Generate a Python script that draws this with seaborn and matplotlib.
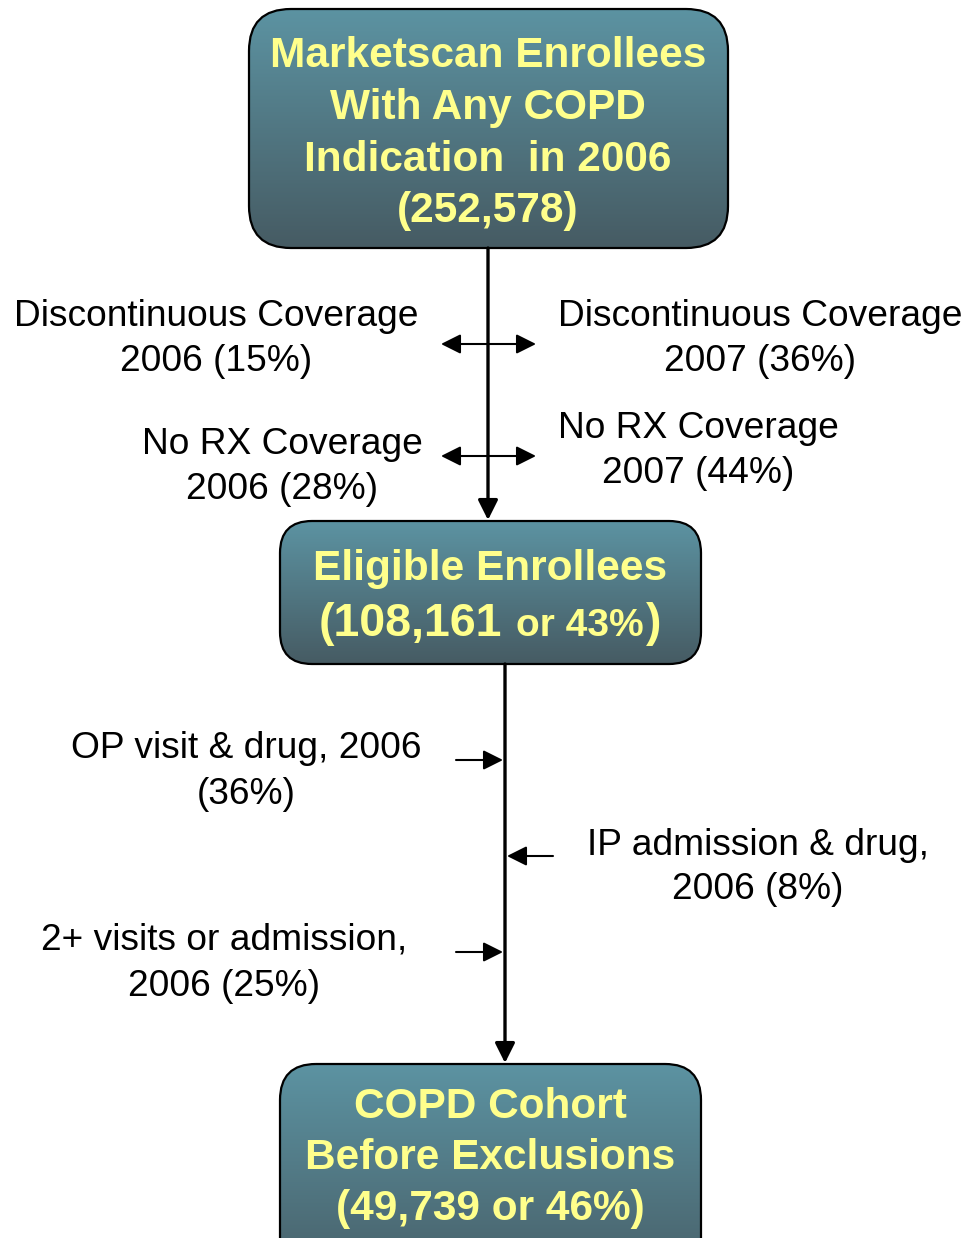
import matplotlib.pyplot as plt
import seaborn as sns
import numpy as np
from matplotlib.patches import FancyBboxPatch

sns.set_theme(style="white")
plt.rcParams["font.family"] = ["Liberation Sans", "DejaVu Sans"]

# box texts
top_box = ["Marketscan Enrollees", "With Any COPD", "Indication  in 2006", "(252,578)"]
mid_box_title = "Eligible Enrollees"
mid_box_count = ["(108,161", "or 43%", ")"]
bottom_box = ["COPD Cohort", "Before Exclusions", "(49,739 or 46%)"]

# side labels
disc_2006 = ["Discontinuous Coverage", "2006 (15%)"]
disc_2007 = ["Discontinuous Coverage", "2007 (36%)"]
norx_2006 = ["No RX Coverage", "2006 (28%)"]
norx_2007 = ["No RX Coverage", "2007 (44%)"]
op_visit = ["OP visit & drug, 2006", "(36%)"]
ip_adm = ["IP admission & drug,", "2006 (8%)"]
two_plus = ["2+ visits or admission,", "2006 (25%)"]

W, H = 978, 1238
fig = plt.figure(figsize=(W / 100, H / 100), dpi=100)
ax = fig.add_axes([0, 0, 1, 1])

box_cmap = sns.blend_palette(["#5C93A2", "#465B63"], n_colors=256, as_cmap=True)
yellow = "#FFFF8C"
grad = np.linspace(0, 1, 256).reshape(-1, 1)


def box(x0, y0, x1, y1, r):
    patch = FancyBboxPatch((x0, y0), x1 - x0, y1 - y0,
                           boxstyle=f"round,pad=0,rounding_size={r}",
                           fc="none", ec="black", lw=1.6, zorder=3)
    ax.add_patch(patch)
    im = ax.imshow(grad, cmap=box_cmap, extent=(x0, x1, y1, y0),
                   origin="upper", aspect="auto", zorder=2)
    im.set_clip_path(patch)


def lines(x, baselines, texts, size, bold=False, color="black"):
    for yb, t in zip(baselines, texts):
        ax.text(x, yb, t, ha="center", va="baseline", fontsize=size,
                fontweight="bold" if bold else "normal", color=color, zorder=4)


big = 30.5
small = 26.7

# boxes
box(249, 9, 728, 248, 42)
box(280, 521, 701, 664, 32)
box(280, 1064, 701, 1300, 36)

lines(488, [67, 119, 171, 222], top_box, big, bold=True, color=yellow)
lines(490, [580], [mid_box_title], big, bold=True, color=yellow)
lines(490, [1118, 1169, 1220], bottom_box, big, bold=True, color=yellow)

# mixed-size count line in the middle box
renderer = fig.canvas.get_renderer()
sizes = [33.5, 28, 33.5]
parts = [ax.text(0, 636, p, ha="left", va="baseline", fontsize=s,
                 fontweight="bold", color=yellow, zorder=4)
         for p, s in zip(mid_box_count, sizes)]
widths = [p.get_window_extent(renderer).width for p in parts]
gaps = [14, 2]
total = sum(widths) + sum(gaps)
x = 490 - total / 2
for p, w, g in zip(parts, widths, gaps + [0]):
    p.set_x(x)
    x += w + g

# side labels
lines(216, [326, 371], disc_2006, small)
lines(760, [326, 371], disc_2007, small)
lines(282, [454, 499], norx_2006, small)
lines(698, [438, 483], norx_2007, small)
lines(246, [758, 804], op_visit, small)
lines(758, [855, 899], ip_adm, small)
lines(224, [950, 996], two_plus, small)

# main flow arrows
main = dict(arrowstyle="-|>,head_length=0.6,head_width=0.3", color="black",
            lw=2.4, shrinkA=0, shrinkB=0, mutation_scale=20)
ax.annotate("", xy=(488, 520), xytext=(488, 248), arrowprops=main, zorder=5)
ax.annotate("", xy=(505, 1063), xytext=(505, 664), arrowprops=main, zorder=5)

# side arrows
dbl = dict(arrowstyle="<|-|>,head_length=0.6,head_width=0.3", color="black",
           lw=1.5, shrinkA=0, shrinkB=0, mutation_scale=20)
for yy in [344, 456]:
    ax.annotate("", xy=(536, yy), xytext=(441, yy), arrowprops=dbl, zorder=5)

one = dict(arrowstyle="-|>,head_length=0.6,head_width=0.3", color="black",
           lw=1.5, shrinkA=0, shrinkB=0, mutation_scale=20)
ax.annotate("", xy=(503, 760), xytext=(456, 760), arrowprops=one, zorder=5)
ax.annotate("", xy=(507, 856), xytext=(553, 856), arrowprops=one, zorder=5)
ax.annotate("", xy=(503, 952), xytext=(456, 952), arrowprops=one, zorder=5)

ax.set_xlim(0, W)
ax.set_ylim(H, 0)
ax.axis("off")

fig.savefig("out.png", dpi=100, facecolor="white")
